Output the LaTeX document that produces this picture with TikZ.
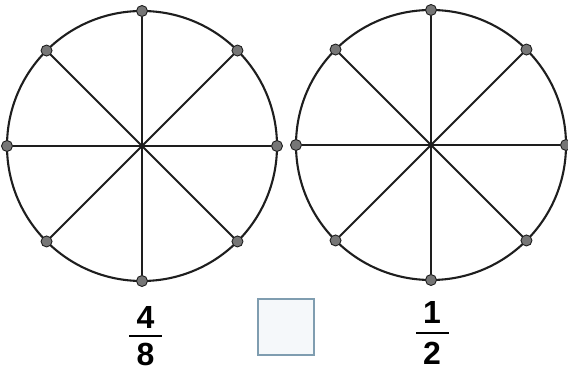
\documentclass[tikz,border=0pt]{standalone}
\usepackage{fontspec}
\setmainfont{Liberation Sans}
\definecolor{linec}{HTML}{1E1E1E}
\definecolor{dotgray}{HTML}{767676}
\definecolor{boxc}{HTML}{7F9DB0}
\definecolor{boxfill}{HTML}{F5F8FA}
\begin{document}
\begin{tikzpicture}[x=1pt,y=-1pt]
\useasboundingbox (0,0) rectangle (568,371);
\tikzset{
  wheel/.style={circle,draw=linec,line width=2.1pt,minimum size=270pt,inner sep=0pt,outer sep=0pt},
  dotc/.style={circle,fill=dotgray,draw=linec,line width=0.9pt,minimum size=11pt,inner sep=0pt},
  spoke/.style={draw=linec,line width=1.8pt},
  frac/.style={font=\bfseries\fontsize{32}{32}\selectfont,inner sep=0pt,text=black},
  bar/.style={draw=black,line width=2pt},
  ansbox/.style={draw=boxc,fill=boxfill,line width=1.4pt,minimum size=56pt,inner sep=0pt}
}
% left wheel
\node[wheel] (LC) at (142,146) {};
\foreach \i in {0,...,7} {
  \node[dotc] (L\i) at (LC.\i*45) {};
}
\foreach \i/\j in {0/4,1/5,2/6,3/7} {
  \draw[spoke] (L\i) -- (L\j);
}
% right wheel
\node[wheel] (RC) at (431,145) {};
\foreach \i in {0,...,7} {
  \node[dotc] (R\i) at (RC.\i*45) {};
}
\foreach \i/\j in {0/4,1/5,2/6,3/7} {
  \draw[spoke] (R\i) -- (R\j);
}
% fraction 4/8
\node[frac] (n1) at (145.5,317) {4};
\node[frac] (d1) at (145.5,354) {8};
\coordinate (b1l) at (129,336);
\coordinate (b1r) at (162,336);
\draw[bar] (b1l) -- (b1r);
% answer box
\node[ansbox] (box) at (286,327) {};
% fraction 1/2
\node[frac] (n2) at (432,312) {1};
\node[frac] (d2) at (432,353) {2};
\coordinate (b2l) at (416,333);
\coordinate (b2r) at (449,333);
\draw[bar] (b2l) -- (b2r);
\end{tikzpicture}
\end{document}
